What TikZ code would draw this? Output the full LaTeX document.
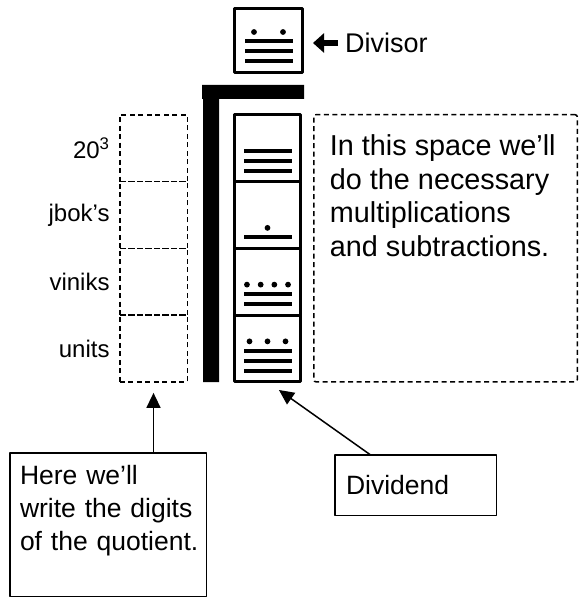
\documentclass[tikz,border=0pt]{standalone}
\usepackage{fontspec}
\setmainfont{Liberation Sans}
\usetikzlibrary{arrows.meta,positioning,calc}

\tikzset{
  mayacell/.style={draw,line width=3pt,minimum width=66pt,minimum height=66.75pt,outer sep=0pt,inner sep=0pt},
  quotcell/.style={draw,line width=1.5pt,dash pattern=on 5pt off 3.5pt,minimum width=67.5pt,minimum height=66.75pt,outer sep=0pt,inner sep=0pt},
  rowlabel/.style={font=\fontsize{24}{28}\selectfont,inner sep=0pt},
  notebox/.style={draw,line width=1.5pt,align=left,outer sep=0pt,font=\fontsize{26.5}{33}\selectfont},
  callout/.style={line width=1.5pt,-{Triangle[length=15pt,width=14pt]}},
  divarrow/.style={line width=6pt,-{Triangle[length=11pt,width=19pt]}}
}

% one Maya digit: cell, dots, bars
\newcommand{\mayadigit}[3]{%
  \foreach \nb in {1,...,#3}
    \fill ($(#1.south)+(-24,{1-10*\nb})$) rectangle ++(48,-4);
  \ifnum#2>0
    \ifcase#2\or\def\dotgap{0}\or\def\dotgap{29}\or\def\dotgap{18}\or\def\dotgap{13.7}\fi
    \foreach \nd in {1,...,#2}
      \fill ($(#1.south)+({(\nd-(#2+1)/2)*\dotgap},{-10.5-10*#3})$) circle (2.9);
  \fi
}

\begin{document}
\begin{tikzpicture}[x=1pt,y=-1pt,line join=round,font=\fontsize{27}{33}\selectfont]
	\useasboundingbox (0,0) rectangle (581,599);
	% divisor
	\node[mayacell,minimum width=68pt,minimum height=64pt] (divisor) at (268.5,40.5) {};
	\node[inner sep=0pt,right=42.5pt of divisor,yshift=-2.5pt] (divlabel) {Divisor};
	\draw[divarrow,shorten <=7pt,shorten >=10.5pt] (divlabel.west) -- (divlabel.west -| divisor.east);
	% bracket
	\fill (202,85) -- (304,85) -- (304,99) -- (219,99) -- (219,382) -- (203,382) -- (203,99) -- (202,99) -- cycle;
	% dividend and quotient columns
	\foreach \k in {1,...,4}{
		\node[mayacell] (d\k) at (267.5,{81.5+66.75*\k}) {};
		\node[quotcell] (q\k) at (153.5,{81.5+66.75*\k}) {};
	}
	\node[rowlabel,left=10pt of q1] (l1) {20\textsuperscript{3}};
	\node[rowlabel,left=10pt of q2] (l2) {jbok’s};
	\node[rowlabel,left=10pt of q3] (l3) {viniks};
	\node[rowlabel,left=10pt of q4] (l4) {units};
	\mayadigit{divisor}{2}{3}
	\mayadigit{d1}{0}{3}
	\mayadigit{d2}{1}{1}
	\mayadigit{d3}{4}{2}
	\mayadigit{d4}{3}{3}
	% working space
	\node[draw,line width=1.5pt,dash pattern=on 5pt off 3.5pt,rounded corners=2pt,outer sep=0pt,
		minimum width=263.5pt,minimum height=267pt] (space) at (445.5,248.25) {};
	\node[inner sep=0pt,align=left,anchor=north west,font=\fontsize{28.8}{33.5}\selectfont] (spacetext)
		at ($(space.north west)+(16,20)$)
		{In this space we’ll\\do the necessary\\multiplications\\and subtractions.};
	% notes
	\node[notebox,text width=176pt,inner xsep=10.25pt,minimum height=143.5pt] (quot) at (108,524.5)
		{Here we’ll\\write the digits\\\mbox{of the quotient.}\\\mbox{}};
	\node[notebox,text width=139pt,inner xsep=11.25pt,minimum height=60.5pt] (divd) at (415.5,485) {Dividend};
	\draw[callout,shorten >=11pt] (quot.north -| q4.south) -- (q4.south);
	\draw[callout,shorten >=14pt] ($(divd.north west)!0.22!(divd.north east)$) -- (d4.south);
\end{tikzpicture}
\end{document}
